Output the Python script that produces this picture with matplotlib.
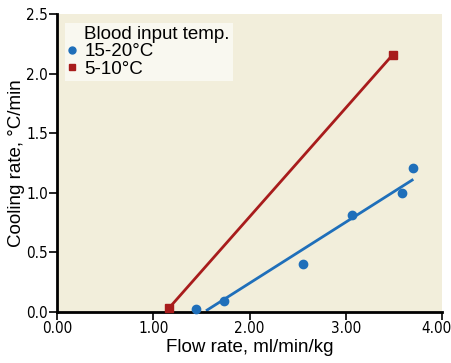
import numpy as np
import matplotlib
matplotlib.use("Agg")
import matplotlib.pyplot as plt
import matplotlib.transforms as mtransforms
from matplotlib.lines import Line2D
from matplotlib import font_manager

# blood input 15-20 C
flow_warm = [1.44, 1.735, 2.56, 3.065, 3.584, 3.695]
rate_warm = [0.028, 0.09, 0.40, 0.816, 0.996, 1.208]
fit_warm_range = [1.56, 3.69]

# blood input 5-10 C
flow_cold = [1.167, 3.49]
rate_cold = [0.036, 2.16]

xticks = [0, 1, 2, 3, 4]
yticks = [0, 0.5, 1.0, 1.5, 2.0, 2.5]

blue = '#1f6fba'
red = '#a81c1c'
label_font = 'Liberation Sans'

# look for a narrow, regular weight face for the tick numbers
narrow = [f for f in font_manager.fontManager.ttflist
          if ('Narrow' in f.name or 'Condensed' in f.name
              or 'condensed' in str(f.stretch))
          and f.style == 'normal' and f.weight in (400, 'normal', 'regular', 'book')]
narrow.sort(key=lambda f: 0 if 'Liberation' in f.name else 1)
if narrow:
    nf = narrow[0]
    tick_prop = dict(fontproperties=font_manager.FontProperties(fname=nf.fname, size=11))
else:
    tick_prop = dict(family='Liberation Sans', fontsize=10)

fig = plt.figure(figsize=(4.52, 3.63), dpi=100)
ax = fig.add_axes([57 / 452, 51 / 363, 385 / 452, 298 / 363])
ax.set_facecolor('#f2eedb')

# regression line for the warm group
k, b = np.polyfit(flow_warm, rate_warm, 1)
xf = np.array(fit_warm_range)
ax.plot(xf, k * xf + b, color=blue, lw=2, zorder=2)
ax.plot(flow_warm, rate_warm, 'o', color=blue, ms=6, zorder=3, clip_on=False)

ax.plot(flow_cold, rate_cold, color=red, lw=2, zorder=2)
ax.plot(flow_cold, rate_cold, 's', color=red, ms=6, zorder=3, clip_on=False)

ax.set_xlim(0, 4)
ax.set_ylim(0, 2.5)
ax.set_xticks(xticks)
ax.set_xticklabels(['%.2f' % v for v in xticks], **tick_prop)
ax.set_yticks(yticks)
ax.set_yticklabels(['%.1f' % v for v in yticks], **tick_prop)
ax.tick_params(direction='out', length=5.5, width=1.2, pad=1)

# keep the last x label inside the figure
last = ax.get_xticklabels()[-1]
last.set_transform(last.get_transform() +
                   mtransforms.ScaledTranslation(-6 / 100, 0, fig.dpi_scale_trans))

for s in ['top', 'right']:
    ax.spines[s].set_visible(False)
for s in ['left', 'bottom']:
    ax.spines[s].set_linewidth(2)

ax.set_xlabel('Flow rate, ml/min/kg', family=label_font, fontsize=13.5, labelpad=2)
ax.set_ylabel('Cooling rate, °C/min', family=label_font, fontsize=13.5, labelpad=0.5)

handles = [
    Line2D([], [], linestyle='none'),
    Line2D([], [], marker='o', color=blue, linestyle='none', ms=5),
    Line2D([], [], marker='s', color=red, linestyle='none', ms=5),
]
labels = ['Blood input temp.', '15-20°C', '5-10°C']
leg = ax.legend(handles, labels, loc='upper left', bbox_to_anchor=(0.02, 0.97),
                prop={'family': label_font, 'size': 13.5}, frameon=True,
                facecolor='#f9f8f0', edgecolor='none', framealpha=1, fancybox=False,
                handlelength=0.5, handletextpad=0.4, labelspacing=0.02,
                borderpad=0.15, borderaxespad=0)

fig.savefig('out.png', dpi=100)
